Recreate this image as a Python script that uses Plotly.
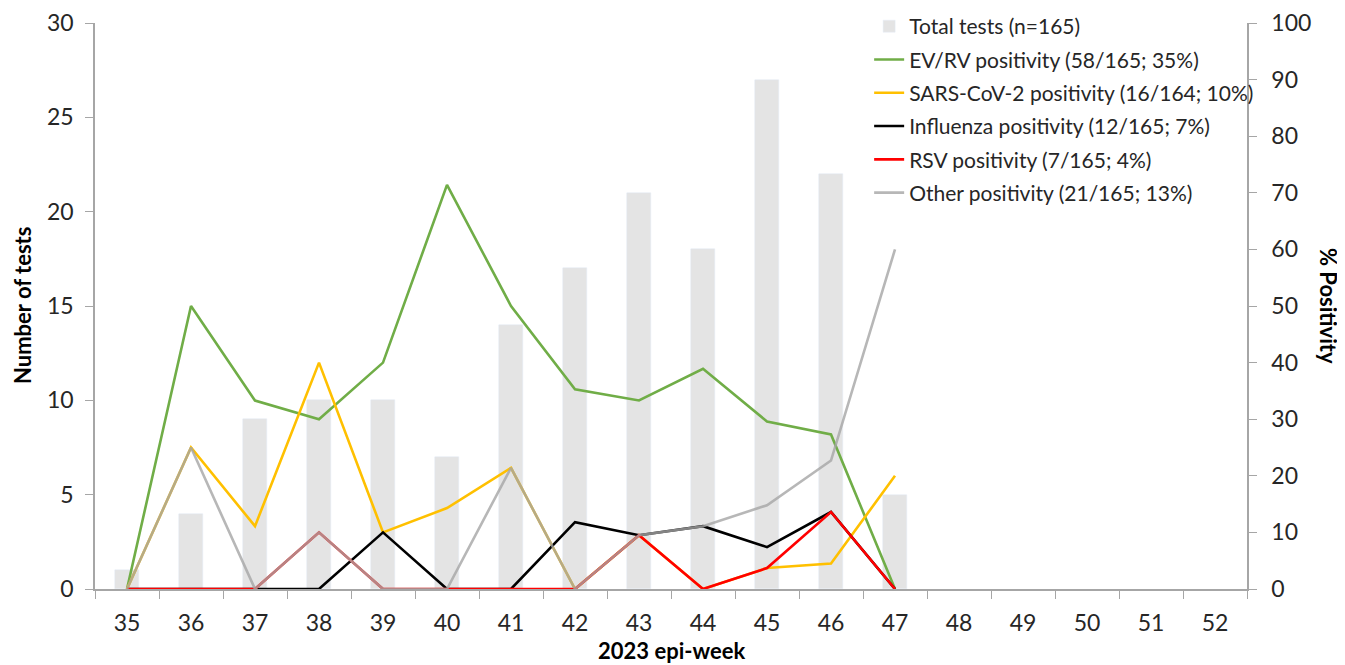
import plotly.graph_objects as go

weeks_all = [str(w) for w in range(35, 53)]
weeks = [str(w) for w in range(35, 48)]
total_tests = [1, 4, 9, 10, 10, 7, 14, 17, 21, 18, 27, 22, 5]
ev_rv = [0, 50, 33.3, 30, 40, 71.4, 50, 35.3, 33.3, 38.9, 29.6, 27.3, 0]
sars = [0, 25, 11.1, 40, 10, 14.3, 21.4, 0, 9.5, 0, 3.7, 4.5, 20]
flu = [0, 0, 0, 0, 10, 0, 0, 11.8, 9.5, 11.1, 7.4, 13.6, 0]
rsv = [0, 0, 0, 10, 0, 0, 0, 0, 9.5, 0, 3.7, 13.6, 0]
other = [0, 25, 0, 10, 0, 0, 21.4, 0, 9.5, 11.1, 14.8, 22.7, 60]

names = ["Total tests (n=165)", "EV/RV positivity (58/165; 35%)",
         "SARS-CoV-2 positivity (16/164; 10%)", "Influenza positivity (12/165; 7%)",
         "RSV positivity (7/165; 4%)", "Other positivity (21/165; 13%)"]

FONT = "Lato"
TXT = "#262626"
fig = go.Figure()
fig.add_trace(go.Bar(x=weeks, y=total_tests, name=names[0], marker_color="#e4e4e4",
                     width=0.37, legendgroup="g0"))
series = [(ev_rv, "#70ad47"), (sars, "#ffc000"), (flu, "#000000"),
          (rsv, "#ff0000"), (other, "rgba(165,165,165,0.8)")]
for i, (vals, col) in enumerate(series):
    fig.add_trace(go.Scatter(x=weeks, y=vals, name=names[i + 1], mode="lines",
                             line=dict(color=col, width=2.6), yaxis="y2",
                             legendgroup=f"g{i+1}"))

# the page body has an 8px margin: figure is sized to fit the viewport
W, H = 1337, 657
L, R, T, B = 87, 98, 15, 76
PW, PH = W - L - R, H - T - B

axis_col = "#a6a6a6"
common = dict(ticks="outside", ticklen=8, tickcolor=axis_col, showline=True,
              linecolor=axis_col, linewidth=1.5, showgrid=False,
              tickfont=dict(size=23), automargin=False, ticklabeloverflow="allow")
fig.update_layout(
    width=W, height=H,
    margin=dict(l=L, r=R, t=T, b=B, autoexpand=False),
    plot_bgcolor="white", paper_bgcolor="white",
    font=dict(family=FONT, size=23, color=TXT),
    showlegend=True,
    legend=dict(x=0.672, y=1.03, xanchor="left", yanchor="top",
                bgcolor="rgba(0,0,0,0)", font=dict(size=21, color=TXT),
                tracegroupgap=3, traceorder="grouped"),
    bargap=0,
    xaxis=dict(type="category", categoryorder="array", categoryarray=weeks_all,
               range=[-0.5, 17.5], tickson="boundaries", ticklabelstandoff=13, **common),
    yaxis=dict(range=[0, 30], dtick=5, zeroline=False, ticklabelstandoff=7, **common),
    yaxis2=dict(range=[0, 100], dtick=10, overlaying="y", side="right",
                zeroline=False, ticklabelstandoff=10, **common),
)
title_font = dict(family=FONT, size=22, color="black")
fig.add_annotation(text="<b>Number of tests</b>", xref="paper", yref="paper",
                   x=(14 - L) / PW, y=0.5, textangle=-90, showarrow=False,
                   xanchor="center", yanchor="middle", font=title_font)
fig.add_annotation(text="<b>% Positivity</b>", xref="paper", yref="paper",
                   x=(1321 - L) / PW, y=0.5, textangle=90, showarrow=False,
                   xanchor="center", yanchor="middle", font=title_font)
fig.add_annotation(text="<b>2023 epi-week</b>", xref="paper", yref="paper",
                   x=0.5, y=((H - B) - 643) / PH, showarrow=False,
                   xanchor="center", yanchor="middle", font=title_font)
fig.write_html("out.html")
